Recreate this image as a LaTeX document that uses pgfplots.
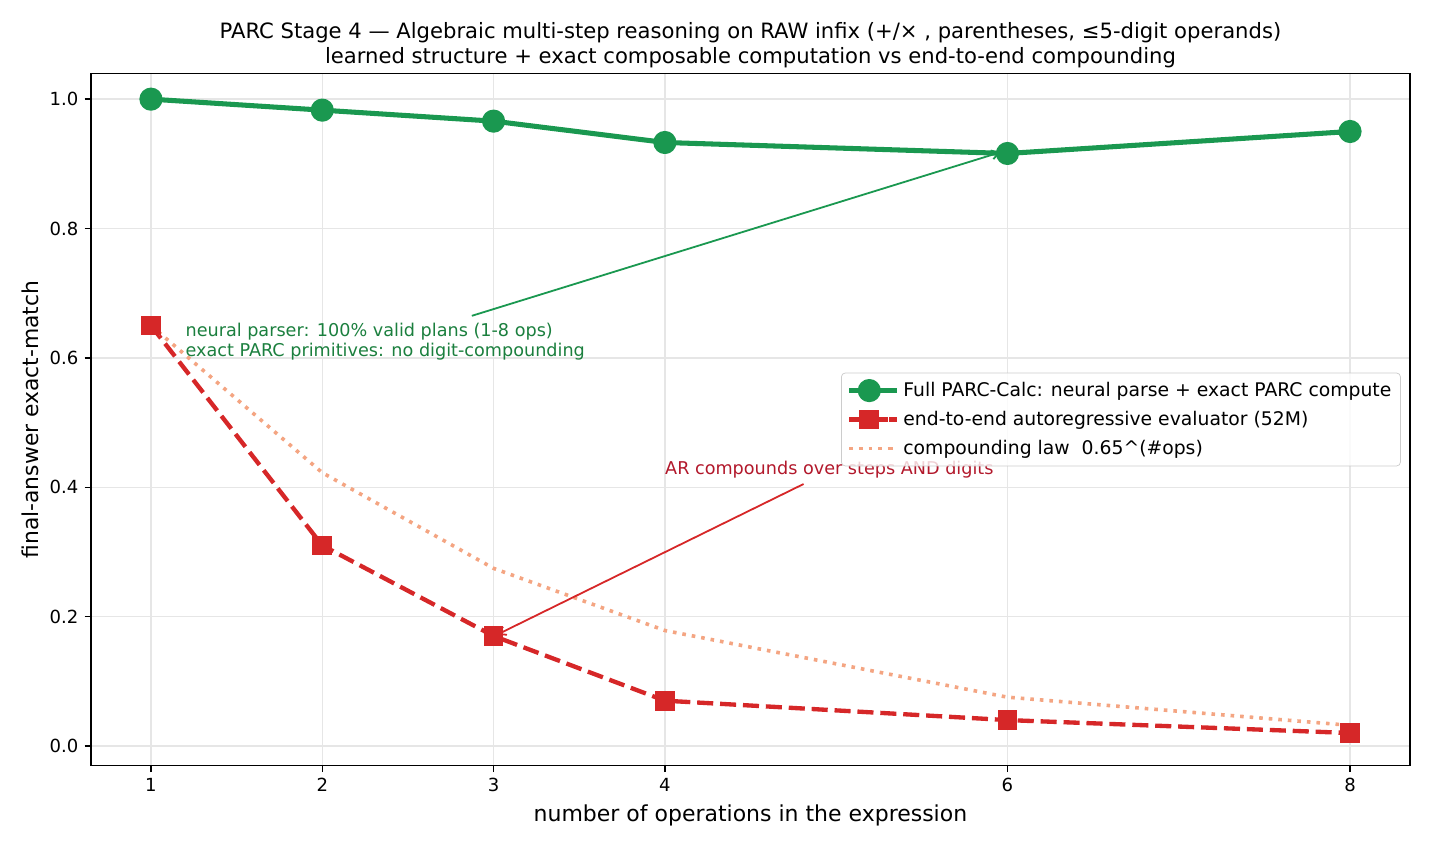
\documentclass[border=0pt]{standalone}
\usepackage{fontspec}
\setmainfont{DejaVu Sans}
\usepackage{pgfplots}
\pgfplotsset{compat=1.18}
\usetikzlibrary{arrows.meta}
\definecolor{cgreen}{HTML}{1A9850}
\definecolor{cred}{HTML}{D62728}
\definecolor{csalmon}{HTML}{F4A582}
\definecolor{cgtext}{HTML}{1B7F3E}
\definecolor{crtext}{HTML}{B2182B}
\definecolor{cgrid}{HTML}{E6E6E6}
\begin{document}
\begin{tikzpicture}
\useasboundingbox (-50.40pt,-43.92pt) rectangle (741.54pt,424.04pt);
\begin{axis}[
  at={(0pt,0pt)}, anchor=south west,
  scale only axis, width=730.46pt, height=383.45pt,
  xmin=0.65, xmax=8.35, ymin=-0.0305, ymax=1.04,
  xtick={1,2,3,4,6,8},
  ytick={0,0.2,0.4,0.6,0.8,1.0},
  yticklabel style={/pgf/number format/.cd, fixed, fixed zerofill, precision=1},
  /pgf/number format/assume math mode=true,
  tick label style={font=\fontsize{10}{12}\selectfont},
  grid=major, major grid style={cgrid, line width=0.8pt},
  axis line style={line width=0.8pt},
  tick align=outside, major tick length=3.5pt, tick style={black, line width=0.8pt},
  tick pos=left,
  legend style={at={(0.993,0.5)}, anchor=east, draw=black!20, fill=white, fill opacity=0.8, text opacity=1,
    rounded corners=2pt, font=\fontsize{10.4}{12.5}\selectfont, row sep=2.6pt, inner xsep=3pt, inner ysep=3pt,
    cells={anchor=west}},
  legend image code/.code={\draw[fill opacity=1, draw opacity=1, mark repeat=2,mark phase=2,#1] plot coordinates {(0pt,0pt) (11pt,0pt) (22pt,0pt)};
    \path (22pt,0pt) -- (26.5pt,0pt);},
]
\addplot[cgreen, line width=2.8pt, line join=round, mark=*, mark size=5pt, mark options={solid}]
  coordinates {(1,1.0)(2,0.983)(3,0.966)(4,0.933)(6,0.916)(8,0.950)};
\addlegendentry{Full PARC-Calc: neural parse + exact PARC compute}
\addplot[cred, line width=2.4pt, dash pattern=on 8.9pt off 3.8pt, mark=square*, mark size=4.3pt, mark options={solid}]
  coordinates {(1,0.65)(2,0.31)(3,0.17)(4,0.07)(6,0.04)(8,0.02)};
\addlegendentry{end-to-end autoregressive evaluator (52M)}
\addplot[csalmon, line width=2pt, dash pattern=on 2pt off 3.3pt]
  coordinates {(1,0.65)(2,0.4225)(3,0.274625)(4,0.178506)(6,0.075419)(8,0.031864)};
\addlegendentry{compounding law\ \ 0.65\textasciicircum(\#ops)}
\draw[cgreen, line width=1pt, -{Straight Barb[length=4pt,width=5pt]}] (axis cs:2.873,0.665) -- (axis cs:5.96,0.918);
\draw[cred, line width=1pt, -{Straight Barb[length=4pt,width=5pt]}] (axis cs:4.81,0.405) -- (axis cs:3.02,0.172);
\node[anchor=base west, inner sep=0pt, text=cgtext, font=\fontsize{9.76}{12}\selectfont] at (axis cs:1.2,0.633) {neural parser: 100\% valid plans (1-8 ops)};
\node[anchor=base west, inner sep=0pt, text=cgtext, font=\fontsize{9.76}{12}\selectfont] at (axis cs:1.2,0.602) {exact PARC primitives: no digit-compounding};
\node[anchor=base west, inner sep=0pt, text=crtext, font=\fontsize{9.76}{12}\selectfont] at (axis cs:4.0,0.420) {AR compounds over steps AND digits};
\end{axis}
\node[rotate=90, font=\fontsize{12.1}{14}\selectfont] at (-33.6pt,191.7pt) {final-answer exact-match};
\node[font=\fontsize{12.17}{14}\selectfont] at (365.2pt,-27.3pt) {number of operations in the expression};
\node[align=center, anchor=south, inner sep=0pt, font=\fontsize{11.7}{13.9}\selectfont] at (365.2pt,386.3pt)
  {PARC Stage 4 — Algebraic multi-step reasoning on RAW infix (+/× , parentheses, ≤5-digit operands)\\
   learned structure + exact composable computation vs end-to-end compounding};
\end{tikzpicture}
\end{document}
